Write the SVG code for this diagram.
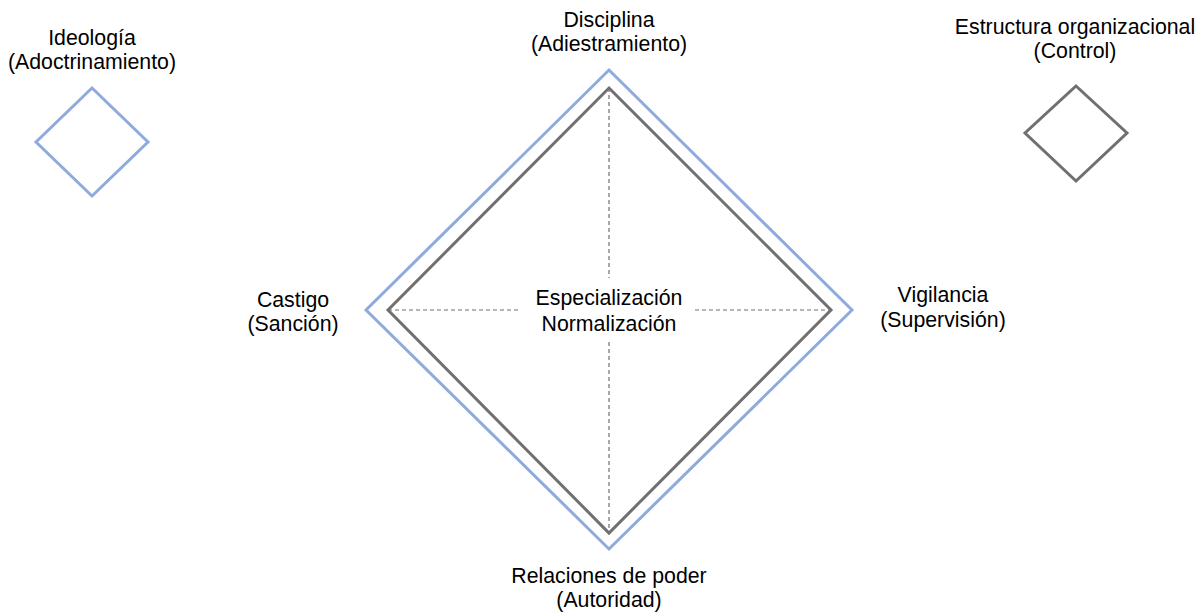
<svg xmlns="http://www.w3.org/2000/svg" width="1201" height="614" viewBox="0 0 1201 614">
<style>
  .t { font-family: "Liberation Sans", Arial, sans-serif; font-size: 21.3px; fill: #000; text-anchor: middle; }
  .blue { fill: none; stroke: #8FAADC; stroke-width: 3; }
  .gray { fill: none; stroke: #707070; stroke-width: 3; }
  .dash { fill: none; stroke: #707070; stroke-width: 1.2; stroke-dasharray: 4 3; }
</style>
<rect width="1201" height="614" fill="#fff"/>
<g id="outer-diamond">
  <polygon class="blue" points="609,70 852,310 609,549 366,310"/>
</g>
<g id="inner-diamond">
  <polygon class="gray" points="609,88 831,310 609,533 388,310"/>
</g>
<g id="connectors">
  <line class="dash" x1="609" y1="88" x2="609" y2="278"/>
  <line class="dash" x1="609" y1="342" x2="609" y2="533"/>
  <line class="dash" x1="388" y1="310" x2="520" y2="310"/>
  <line class="dash" x1="695" y1="310" x2="831" y2="310"/>
</g>
<g id="ideologia">
  <polygon class="blue" points="92,88 148,142 92,196 36,142"/>
  <text class="t" x="92" y="45">Ideología</text>
  <text class="t" x="92" y="69">(Adoctrinamiento)</text>
</g>
<g id="estructura">
  <polygon class="gray" points="1076,86 1127,133 1076,181 1025,133"/>
  <text class="t" x="1075" y="34">Estructura organizacional</text>
  <text class="t" x="1075" y="58">(Control)</text>
</g>
<g id="disciplina">
  <text class="t" x="609" y="27">Disciplina</text>
  <text class="t" x="609" y="51">(Adiestramiento)</text>
</g>
<g id="castigo">
  <text class="t" x="293" y="307">Castigo</text>
  <text class="t" x="293" y="331">(Sanción)</text>
</g>
<g id="vigilancia">
  <text class="t" x="943" y="302">Vigilancia</text>
  <text class="t" x="943" y="327">(Supervisión)</text>
</g>
<g id="centro">
  <text class="t" x="609" y="305">Especialización</text>
  <text class="t" x="609" y="331">Normalización</text>
</g>
<g id="relaciones">
  <text class="t" x="609" y="583">Relaciones de poder</text>
  <text class="t" x="609" y="607">(Autoridad)</text>
</g>
</svg>
